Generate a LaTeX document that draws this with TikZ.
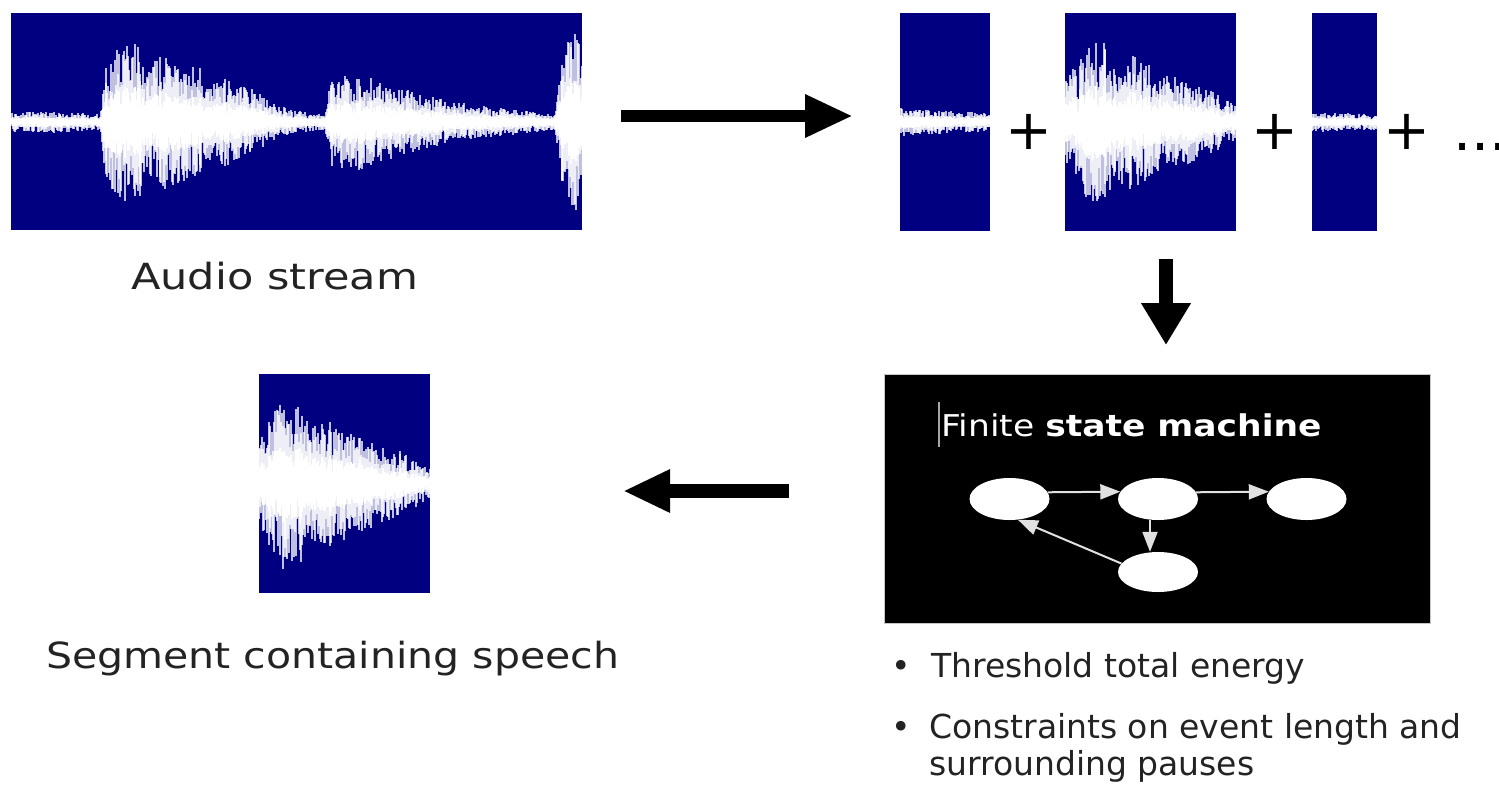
\documentclass[tikz,border=0pt]{standalone}
\usepackage{fontspec}
\setmainfont{DejaVu Sans}
\usepackage{graphicx}
\usetikzlibrary{arrows.meta,shapes.geometric}
\definecolor{wavenavy}{RGB}{0,0,128}
\definecolor{fsmline}{RGB}{225,225,225}
\definecolor{txtgray}{RGB}{35,35,35}
\newcommand\mywave[2]{%
  \foreach \xa/\aa/\xb/\ab in {#2}{%
    \pgfmathtruncatemacro\n{\xb-\xa}%
    \foreach \k in {0,...,\n}{%
      \pgfmathsetmacro\X{\xa+\k}%
      \pgfmathsetmacro\A{\aa+(\ab-\aa)*\k/max(\n,1)}%
      \pgfmathsetmacro\U{\A*(0.35+0.65*rnd)}%
      \pgfmathsetmacro\D{\A*(0.35+0.65*rnd)}%
      \draw[wavestroke] (\X,#1+\U) -- (\X,#1-\D);
      \draw[wavecore] (\X,#1+0.45*\U) -- (\X,#1-0.45*\D);
    }%
  }%
}
\begin{document}
\begin{tikzpicture}[x=1pt,y=1pt,
  wavebox/.style={fill=wavenavy, draw=none, inner sep=0pt, anchor=north west},
  wavestroke/.style={white, line width=1.1pt, opacity=0.75},
  wavecore/.style={white, line width=1.4pt},
  state/.style={ellipse, fill=white, draw=none, minimum width=80pt, minimum height=42pt, inner sep=0pt},
  fsmarrow/.style={draw=fsmline, line width=2pt, -{Triangle[length=20pt,width=15pt]}},
  label/.style={inner sep=0pt, anchor=base west, text=txtgray, font=\fontsize{36}{43}\selectfont},
  bullet/.style={inner sep=0pt, anchor=base west, align=left, text=txtgray, font=\fontsize{33}{37}\selectfont},
  bulletdot/.style={inner sep=0pt, anchor=base, text=txtgray, font=\fontsize{33}{37}\selectfont},
  plus/.style={inner sep=0pt, text=black, font=\fontsize{56}{60}\selectfont},
]
\pgfmathsetseed{7}
\useasboundingbox[fill=white] (0,0) rectangle (1499,-785);

% ---- audio stream ----
\node[wavebox, minimum width=571pt, minimum height=217pt] (stream) at (11,-13) {};
\begin{scope}
\clip (stream.south west) rectangle (stream.north east);
\mywave{-122}{12/10/60/11, 60/11/100/8, 100/8/106/60, 106/60/125/82, 125/82/140/78, 140/78/147/50, 147/50/160/70, 160/70/200/55, 200/55/250/35, 250/35/290/12, 290/12/325/8, 325/8/331/45, 331/45/360/48, 360/48/400/34, 400/34/455/20, 455/20/555/8, 555/8/562/65, 562/65/571/102, 571/102/582/75}
\end{scope}
\node[label] (audiolbl) at (131,-289) {\scalebox{1.196}[1]{Audio stream}};

% ---- segments ----
\node[wavebox, minimum width=90pt, minimum height=218pt] (seg1) at (900,-13) {};
\begin{scope}
\clip (seg1.south west) rectangle (seg1.north east);
\mywave{-122}{900/15/935/12, 935/12/990/9}
\end{scope}
\node[wavebox, minimum width=171pt, minimum height=218pt] (seg2) at (1065,-13) {};
\begin{scope}
\clip (seg2.south west) rectangle (seg2.north east);
\mywave{-122}{1065/40/1080/65, 1080/65/1092/85, 1092/85/1105/82, 1105/82/1115/58, 1115/58/1130/68, 1130/68/1160/52, 1160/52/1200/38, 1200/38/1236/18}
\end{scope}
\node[wavebox, minimum width=65pt, minimum height=218pt] (seg3) at (1312,-13) {};
\begin{scope}
\clip (seg3.south west) rectangle (seg3.north east);
\mywave{-122}{1312/10/1377/8}
\end{scope}
\node[plus] (p1) at (1029,-132) {+};
\node[plus] (p2) at (1275,-132) {+};
\node[plus] (p3) at (1407,-132) {+};
\node[inner sep=0pt, anchor=base west, font=\fontsize{57}{60}\selectfont] (dots) at (1453,-150) {...};

% ---- speech segment ----
\node[wavebox, minimum width=171pt, minimum height=219pt] (speech) at (259,-374) {};
\begin{scope}
\clip (speech.south west) rectangle (speech.north east);
\mywave{-484}{259/40/270/68, 270/68/285/88, 285/88/300/82, 300/82/310/58, 310/58/330/64, 330/64/360/48, 360/48/400/33, 400/33/430/15}
\end{scope}
\node[label] (speechlbl) at (46,-668) {\scalebox{1.14}[1]{Segment containing speech}};

% ---- big arrows ----
\coordinate (ra) at (621,-116); \coordinate (rb) at (853,-116);
\draw[line width=12pt, -{Triangle[length=48pt,width=40pt]}] (ra) -- (rb);
\coordinate (da) at (1166,-259); \coordinate (db) at (1166,-345);
\draw[line width=14pt, -{Triangle[length=42pt,width=47pt]}] (da) -- (db);
\coordinate (la) at (789,-491); \coordinate (lb) at (623,-491);
\draw[line width=14pt, -{Triangle[length=47pt,width=40pt]}] (la) -- (lb);

% ---- finite state machine ----
\node[fill=black, draw=gray!45, line width=1pt, minimum width=546pt, minimum height=249pt, anchor=north west, inner sep=0pt] (fsm) at (884,-374) {};
\coordinate (cura) at (939,-402); \coordinate (curb) at (939,-447);
\draw[gray!70, line width=1.5pt] (cura) -- (curb);
\node[inner sep=0pt, anchor=base west, text=white, font=\fontsize{30}{36}\selectfont] (fsmtitle) at (941,-436) {\scalebox{1.15}[1]{Finite \textbf{state machine}}};
\node[state] (e1) at (1009.5,-499) {};
\node[state] (e2) at (1158,-499) {};
\node[state] (e3) at (1306.5,-499) {};
\node[state, minimum height=40pt] (e4) at (1158,-572) {};
\draw[fsmarrow] (e1.10.5) -- (e2.169.5);
\draw[fsmarrow] (e2.10.5) -- (e3.169.5);
\draw[fsmarrow] ([xshift=-8pt]e2.south) -- ([xshift=-8pt]e4.north);
\draw[fsmarrow] (e4.167) -- (e1.-68);

% ---- bullets ----
\node[bulletdot] (b1) at (901,-677) {•};
\node[bullet] (t1) at (931,-677) {Threshold total energy};
\node[bulletdot] (b2) at (901,-738) {•};
\node[bullet] (t2) at (929,-775) {Constraints on event length and\\surrounding pauses};
\end{tikzpicture}
\end{document}
